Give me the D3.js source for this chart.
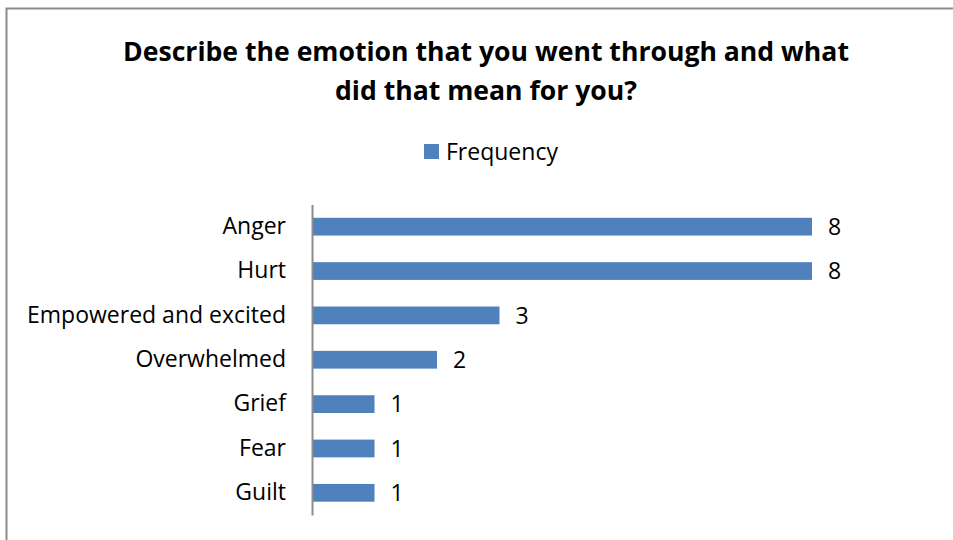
<!DOCTYPE html>
<html>
<head>
<meta charset="utf-8">
<script src="https://cdn.jsdelivr.net/npm/d3@7"></script>
<style>
  body { margin: 0; background: #fff; }
  svg { font-family: "Open Sans", sans-serif; }
</style>
</head>
<body>
<svg id="chart" width="953" height="540"></svg>
<script>
// datos
const categorias = ["Anger", "Hurt", "Empowered and excited", "Overwhelmed", "Grief", "Fear", "Guilt"];
const frecuencia = [8, 8, 3, 2, 1, 1, 1];
const serie = "Frequency";
const titulo = ["Describe the emotion that you went through and what", "did that mean for you?"];

const svg = d3.select("#chart");
const azul = "#4f81bd";

// marco del grafico
svg.append("rect")
  .attr("x", 6.5).attr("y", 8.5)
  .attr("width", 960).attr("height", 560)
  .attr("fill", "#fff")
  .attr("stroke", "#8c8c8c")
  .attr("stroke-width", 2);

// titulo
svg.append("text")
  .attr("x", 486)
  .attr("y", 61)
  .attr("text-anchor", "middle")
  .style("font-size", "26.6px")
  .style("font-weight", "bold")
  .selectAll("tspan")
  .data(titulo)
  .join("tspan")
  .attr("x", 486)
  .attr("dy", (d, i) => i === 0 ? 0 : 39)
  .text(d => d);

// leyenda
svg.append("rect")
  .attr("x", 424).attr("y", 144)
  .attr("width", 15).attr("height", 15)
  .attr("fill", azul);
svg.append("text")
  .attr("x", 446).attr("y", 160)
  .style("font-size", "23px")
  .text(serie);

// escalas
const x = d3.scaleLinear().domain([0, 8]).range([312, 812]);
const y = d3.scaleBand()
  .domain(categorias)
  .range([204.5, 515])
  .paddingInner(0.6)
  .paddingOuter(0.3);

const datos = categorias.map((c, i) => ({ cat: c, val: frecuencia[i] }));

// barras
svg.selectAll(".bar")
  .data(datos)
  .join("rect")
  .attr("class", "bar")
  .attr("x", x(0))
  .attr("y", d => y(d.cat))
  .attr("width", d => x(d.val) - x(0))
  .attr("height", y.bandwidth())
  .attr("fill", azul);

// eje vertical
const eje = svg.append("g")
  .attr("transform", `translate(${x(0)},0)`)
  .call(d3.axisLeft(y).tickSize(0).tickPadding(26));
eje.select(".domain").attr("stroke", "#8c8c8c").attr("stroke-width", 2);
eje.selectAll("text")
  .style("font-size", "23px")
  .style("font-family", "Open Sans, sans-serif")
  .attr("fill", "#000");

// etiquetas de valor
svg.selectAll(".val")
  .data(datos)
  .join("text")
  .attr("class", "val")
  .attr("x", d => x(d.val) + 16)
  .attr("y", d => y(d.cat) + y.bandwidth() / 2)
  .attr("dy", "0.36em")
  .style("font-size", "23px")
  .text(d => d.val);
</script>
</body>
</html>
